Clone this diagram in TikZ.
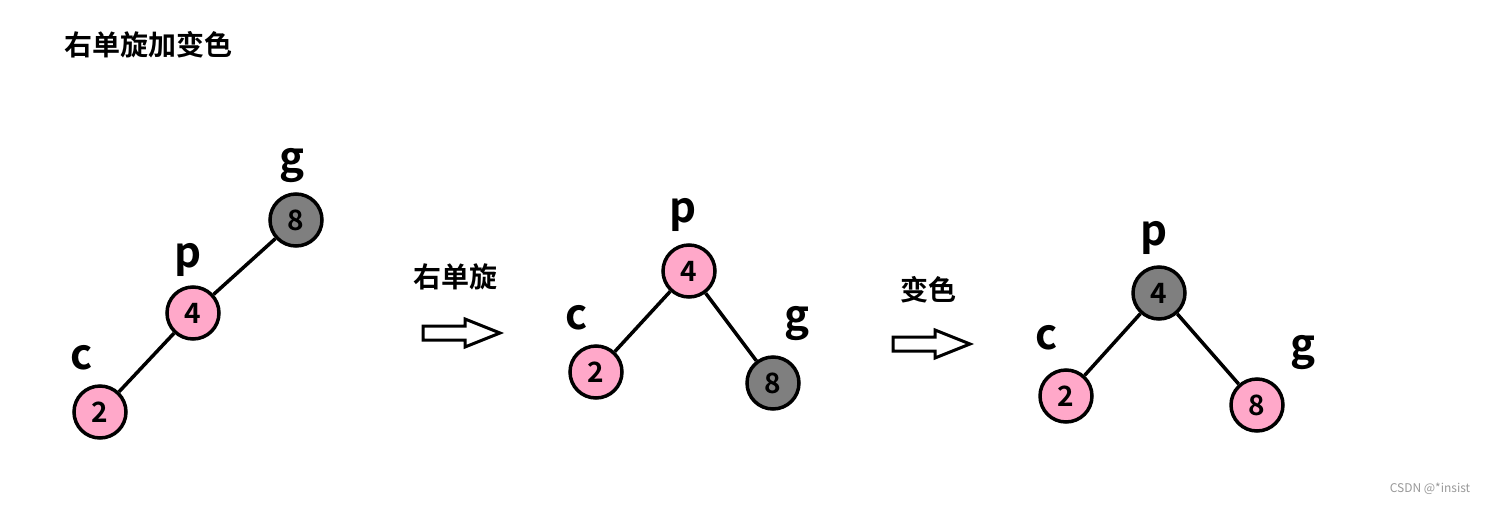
\documentclass[tikz,border=0pt]{standalone}
\usepackage{fontspec}
\setmainfont{Noto Sans CJK SC}[BoldFont={* Bold}]
\begin{document}
\begin{tikzpicture}[x=1pt,y=-1pt,
  nd/.style={circle,draw=black,line width=3.5pt,minimum size=52pt,inner sep=0pt,font=\bfseries\fontsize{28}{28}\selectfont},
  red/.style={nd,fill=pinkc},
  blk/.style={nd,fill=grayc},
  lbl/.style={font=\bfseries\fontsize{42}{44}\selectfont,inner sep=0pt},
  edge/.style={line width=3.5pt},
  captxt/.style={font=\bfseries\fontsize{28}{30}\selectfont,inner sep=0pt},
  hollow/.style={draw=black,line width=3pt,fill=white}]
\definecolor{pinkc}{HTML}{FFA8C9}
\definecolor{grayc}{HTML}{7F7F7F}
\useasboundingbox (0,0) rectangle (1489,504);
\fill[white] (0,0) rectangle (1489,504);
\node[captxt,anchor=west] (title) at (64,45) {右单旋加变色};
% tree 1
\node[blk] (g1) at (296,220) {8};
\node[red] (p1) at (193,313) {4};
\node[red] (c1) at (100,412) {2};
\draw[edge] (g1) -- (p1);
\draw[edge] (p1) -- (c1);
\node[lbl] (lg1) at (292,166) {g};
\node[lbl] (lp1) at (188,260) {p};
\node[lbl] (lc1) at (82,358) {c};
% arrow 1
\node[captxt] (a1) at (455,277) {右单旋};
\draw[hollow,line join=miter] (423,326) -- (465,326) -- (465,319) -- (500,333) -- (465,347) -- (465,340) -- (423,340) -- cycle;
% tree 2
\node[red] (p2) at (689,271) {4};
\node[red] (c2) at (596,372) {2};
\node[blk] (g2) at (773,383) {8};
\draw[edge] (p2) -- (c2);
\draw[edge] (p2) -- (g2);
\node[lbl] (lp2) at (683,215) {p};
\node[lbl] (lc2) at (577,318) {c};
\node[lbl] (lg2) at (797,324) {g};
% arrow 2
\node[captxt] (a2) at (928,290) {变色};
\draw[hollow,line join=miter] (893,337) -- (935,337) -- (935,330) -- (970,344) -- (935,358) -- (935,351) -- (893,351) -- cycle;
% tree 3
\node[blk] (p3) at (1159,293) {4};
\node[red] (c3) at (1066,396) {2};
\node[red] (g3) at (1257,405) {8};
\draw[edge] (p3) -- (c3);
\draw[edge] (p3) -- (g3);
\node[lbl] (lp3) at (1154,238) {p};
\node[lbl] (lc3) at (1047,338) {c};
\node[lbl] (lg3) at (1303,353) {g};
\node[font=\fontsize{12}{13}\selectfont,text=gray!80,inner sep=0pt] (wm) at (1430,489) {CSDN @*insist};
\end{tikzpicture}
\end{document}
